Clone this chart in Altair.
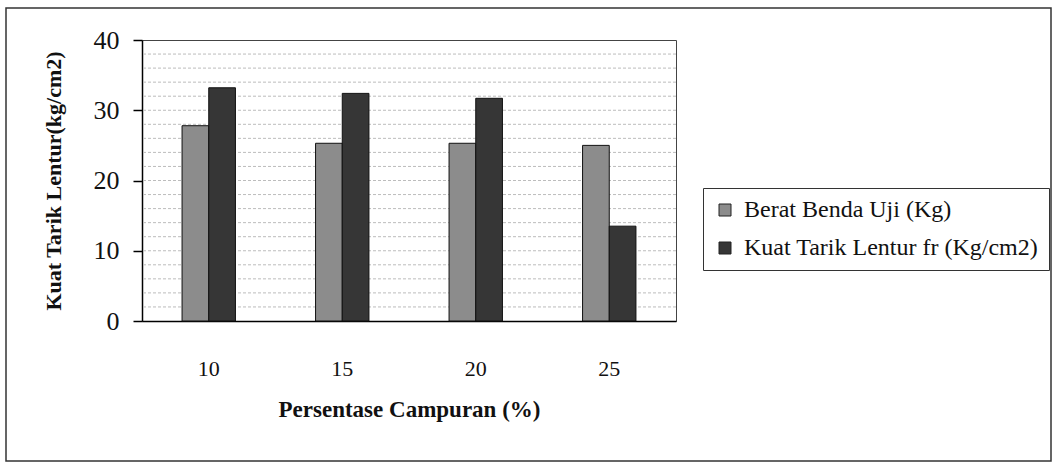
import altair as alt
import pandas as pd

# Mixing percentage categories and the two measured series
persen = ["10", "15", "20", "25"]
berat_benda_uji = [27.8, 25.3, 25.3, 25.0]
kuat_tarik_lentur = [33.2, 32.4, 31.7, 13.5]

series_names = ["Berat Benda Uji (Kg)", "Kuat Tarik Lentur fr (Kg/cm2)"]
series_colors = ["#8c8c8c", "#363636"]

y_ticks = [0, 10, 20, 30, 40]
grid_levels = [2, 4, 6, 8, 10, 12, 14, 16, 18, 20, 22, 24, 26, 28, 30, 32, 34, 36, 38]

rows = []
for i, p in enumerate(persen):
    rows.append({"persen": p, "seri": series_names[0], "nilai": berat_benda_uji[i]})
    rows.append({"persen": p, "seri": series_names[1], "nilai": kuat_tarik_lentur[i]})
df = pd.DataFrame(rows)

W, H = 534, 281
SERIF = "Liberation Serif"
Y_TITLE = "Kuat Tarik Lentur(kg/cm2)"

y_scale = alt.Scale(domain=[0, 40], nice=False, zero=True)
y_axis = alt.Axis(
    values=y_ticks,
    title=Y_TITLE,
    grid=False,
    tickSize=9,
    tickColor="#000000",
    tickWidth=1.5,
    labelPadding=14,
    labelFont=SERIF,
    labelFontSize=26,
    labelColor="#111111",
    titleFont=SERIF,
    titleFontSize=22,
    titleFontWeight="bold",
    titleColor="#111111",
    titlePadding=28,
    domainColor="#000000",
    domainWidth=1.5,
)

# light dashed horizontal grid every 2 units
grid = alt.Chart(pd.DataFrame({"g": grid_levels})).mark_rule(
    color="#bcbcbc", strokeWidth=1, strokeDash=[3, 2]
).encode(
    y=alt.Y("g:Q", scale=y_scale, axis=y_axis, title=Y_TITLE)
)

bars = alt.Chart(df).mark_bar(stroke="#111111", strokeWidth=1).encode(
    x=alt.X(
        "persen:N",
        sort=persen,
        scale=alt.Scale(paddingInner=0.6, paddingOuter=0.3),
        axis=alt.Axis(
            title="Persentase Campuran (%)",
            labelAngle=0,
            ticks=False,
            labelPadding=37,
            labelFont=SERIF,
            labelFontSize=22,
            labelColor="#111111",
            titleFont=SERIF,
            titleFontSize=23,
            titleFontWeight="bold",
            titleColor="#111111",
            titlePadding=19,
            domainColor="#000000",
            domainWidth=1.5,
        ),
    ),
    xOffset=alt.XOffset("seri:N", sort=series_names, scale=alt.Scale(paddingInner=0, paddingOuter=0)),
    y=alt.Y("nilai:Q", scale=y_scale, axis=y_axis, title=Y_TITLE),
    color=alt.Color(
        "seri:N",
        sort=series_names,
        scale=alt.Scale(domain=series_names, range=series_colors),
        legend=alt.Legend(
            title=None,
            orient="none",
            legendX=561,
            legendY=148,
            labelFont=SERIF,
            labelFontSize=24,
            labelColor="#111111",
            labelLimit=500,
            labelOffset=7,
            symbolType="square",
            symbolSize=144,
            symbolStrokeColor="#222222",
            symbolStrokeWidth=1,
            symbolOpacity=1,
            padding=10,
            rowPadding=14,
            strokeColor="#333333",
        ),
    ),
)

# outer frame around the whole figure
frame = alt.Chart(pd.DataFrame({"k": [0]})).mark_rect(
    fillOpacity=0, stroke="#333333", strokeWidth=1.5
).encode(
    x=alt.value(-136), x2=alt.value(909), y=alt.value(-32), y2=alt.value(421)
)

chart = alt.layer(grid, bars, frame).properties(
    width=W,
    height=H,
    autosize=alt.AutoSizeParams(type="none"),
    padding={"left": 142, "top": 40, "right": 1057 - 142 - W, "bottom": 465 - 40 - H},
    background="#ffffff",
).configure(
    font=SERIF
).configure_view(
    stroke="#444444", strokeWidth=1
)

chart.save("out.html", embed_options={"renderer": "svg", "actions": False})
